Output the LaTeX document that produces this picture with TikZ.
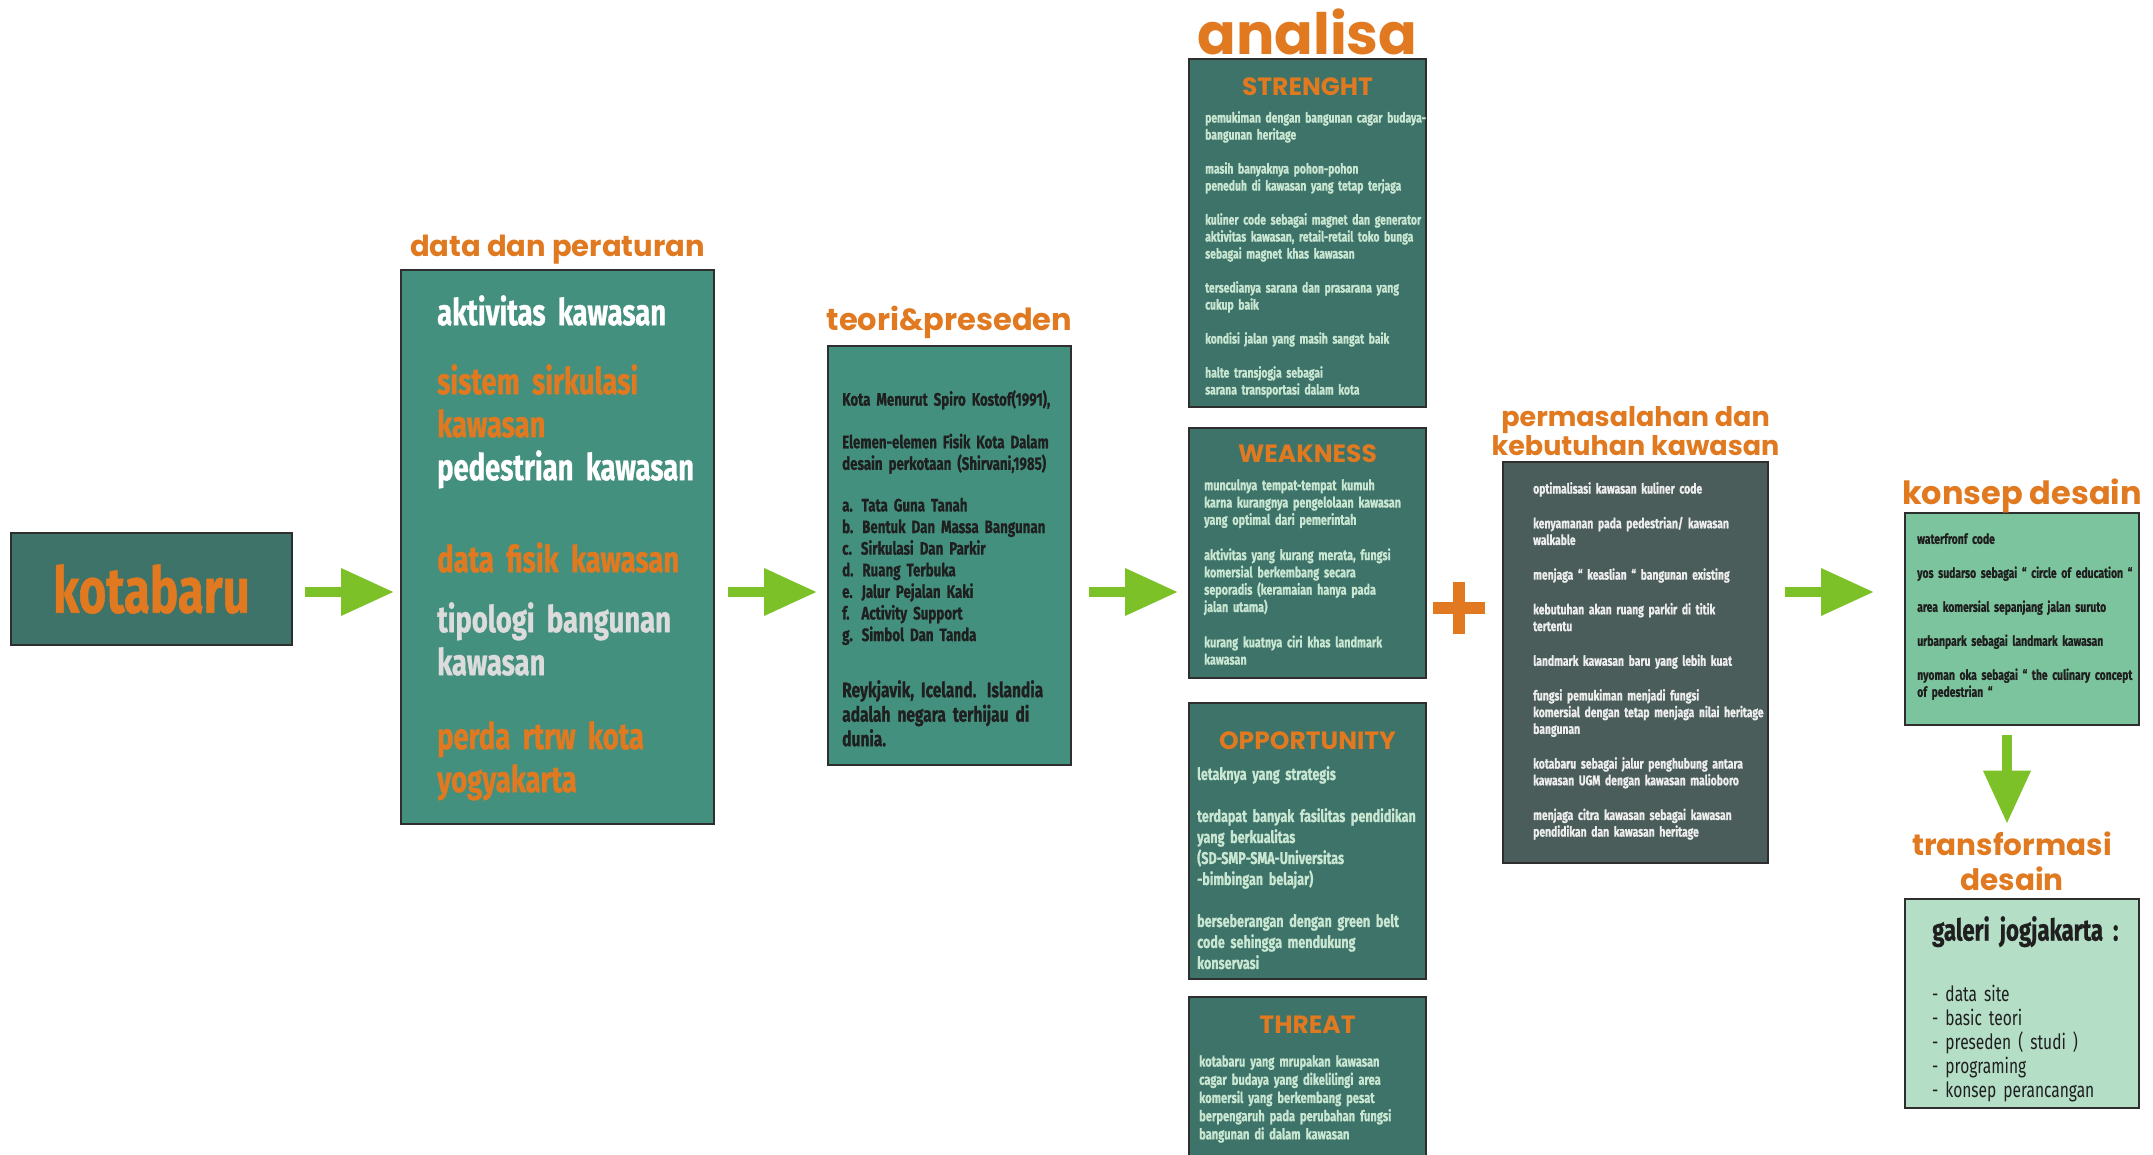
\documentclass[tikz,border=0pt]{standalone}
\usepackage{fontspec}
\usetikzlibrary{positioning, arrows.meta, calc}
\newfontfamily\condfont[FakeStretch=0.74, WordSpace=0.75, BoldFeatures={FakeBold=0.8}]{Fira Sans}
\newfontfamily\headfont{Poppins}

\definecolor{orangetx}{HTML}{E0791F}
\definecolor{tealdark}{HTML}{3D7368}
\definecolor{tealmid}{HTML}{44907F}
\definecolor{slate}{HTML}{4A5D5A}
\definecolor{greenmid}{HTML}{7CC49D}
\definecolor{greenlight}{HTML}{B4DEC6}
\definecolor{arrowgreen}{HTML}{7DC128}
\definecolor{mint}{HTML}{C9E6D3}
\definecolor{textdark}{HTML}{1F1F1F}
\definecolor{greytx}{HTML}{DCDCDC}
\definecolor{boxline}{HTML}{2E2E2E}

\begin{document}
\begin{tikzpicture}[
			x=1pt, y=-1pt,
			node distance=7pt,
			box/.style={
				rectangle,
				draw=boxline,
				line width=1.5pt,
				inner sep=0pt,
				outer sep=0pt,
				anchor=north west
			},
			box_dark/.style={box, fill=tealdark},
			box_teal/.style={box, fill=tealmid},
			title/.style={
				font=\headfont\bfseries\fontsize{29}{31}\selectfont,
				text=orangetx,
				inner sep=0pt,
				align=center
			},
			swot_title/.style={
				font=\headfont\bfseries\fontsize{25}{26}\selectfont,
				text=orangetx,
				inner sep=0pt
			},
			swot_text/.style={
				inner sep=0pt,
				text width=228pt,
				align=left,
				text=mint,
				font=\condfont\bfseries\fontsize{14}{17}\selectfont
			},
			green_arrow/.style={
				draw=arrowgreen,
				line width=10pt,
				-{Triangle[length=53pt, width=45pt]}
			},
			plus_bar/.style={
				draw=orangetx,
				line width=12pt
			}
			]
			
			\useasboundingbox[fill=white] (0,0) rectangle (2153,1155);
			
			% Boxes
			
			\node [box_dark, minimum width=281pt, minimum height=112pt, text=orangetx,
				font=\condfont\bfseries\fontsize{64}{64}\selectfont] (kotabaru) at (11,533) {kotabaru};
			\node [box_teal, minimum width=313pt, minimum height=554pt] (data) at (401,270) {};
			\node [box_teal, minimum width=243pt, minimum height=419pt] (teori) at (828,346) {};
			\node [box_dark, minimum width=237pt, minimum height=348pt] (strength) at (1189,59) {};
			\node [box_dark, minimum width=237pt, minimum height=250pt] (weakness) at (1189,428) {};
			\node [box_dark, minimum width=237pt, minimum height=276pt] (opportunity) at (1189,703) {};
			\node [box_dark, minimum width=237pt, minimum height=170pt] (threat) at (1189,997) {};
			\node [box, fill=slate, minimum width=265pt, minimum height=401pt] (masalah) at (1503,462) {};
			\node [box, fill=greenmid, minimum width=234pt, minimum height=212pt] (konsep) at (1905,513) {};
			\node [box, fill=greenlight, minimum width=234pt, minimum height=209pt] (transformasi) at (1905,899) {};
			
			% Titles
			
			\node [title, above=6pt of data] (data_title) {data dan peraturan};
			\node [title, font=\headfont\bfseries\fontsize{30.5}{32}\selectfont, above=7pt of teori] (teori_title) {teori\&preseden};
			\node [title, font=\headfont\bfseries\fontsize{57}{59}\selectfont, above=4pt of strength] (analisa_title) {analisa};
			\node [title, font=\headfont\bfseries\fontsize{27}{29}\selectfont, above=6pt of masalah] (masalah_title) {permasalahan dan\\kebutuhan kawasan};
			\node [title, font=\headfont\bfseries\fontsize{32}{34}\selectfont, above=0pt of konsep] (konsep_title) {konsep desain};
			\node [title, font=\headfont\bfseries\fontsize{29.5}{35}\selectfont, above=8pt of transformasi, xshift=-10pt] (transformasi_title) {transformasi\\desain};
			
			\node [swot_title, below=19pt of strength.north] (strength_title) {STRENGHT};
			\node [swot_title, below=16pt of weakness.north] (weakness_title) {WEAKNESS};
			\node [swot_title, below=28pt of opportunity.north] (opportunity_title) {OPPORTUNITY};
			\node [swot_title, below=19pt of threat.north] (threat_title) {THREAT};
			
			% Texts
			
			\node [inner sep=0pt, text width=270pt, align=left, font=\condfont\bfseries\fontsize{37}{43}\selectfont,
				below right=25pt and 36pt of data.north west] (data_text) {%
				\textcolor{white}{aktivitas kawasan}\\[26pt]
				\textcolor{orangetx}{sistem sirkulasi}\\
				\textcolor{orangetx}{kawasan}\\
				\textcolor{white}{pedestrian kawasan}\\[49pt]
				\textcolor{orangetx}{data fisik kawasan}\\[17pt]
				\textcolor{greytx}{tipologi bangunan}\\
				\textcolor{greytx}{kawasan}\\[31pt]
				\textcolor{orangetx}{perda rtrw kota}\\
				\textcolor{orangetx}{yogyakarta}};
			
			\node [inner sep=0pt, text width=225pt, align=left, text=textdark, font=\condfont\bfseries\fontsize{18}{21.6}\selectfont,
				below right=44pt and 14pt of teori.north west] (teori_text) {%
				Kota Menurut Spiro Kostof(1991),\\[21pt]
				Elemen-elemen Fisik Kota Dalam\\
				desain perkotaan (Shirvani,1985)\\[20pt]
				a. Tata Guna Tanah\\
				b. Bentuk Dan Massa Bangunan\\
				c. Sirkulasi Dan Parkir\\
				d. Ruang Terbuka\\
				e. Jalur Pejalan Kaki\\
				f.\ \ Activity Support\\
				g. Simbol Dan Tanda};
			\node [inner sep=0pt, text width=225pt, align=left, text=textdark, font=\condfont\bfseries\fontsize{21}{24.5}\selectfont,
				below right=334pt and 14pt of teori.north west] (teori_note) {%
				Reykjavik, Iceland. Islandia\\
				adalah negara terhijau di\\
				dunia.};
			
			\node [swot_text, below right=52pt and 16pt of strength.north west] (strength_text) {%
				pemukiman dengan bangunan cagar budaya-\\
				bangunan heritage\\[17pt]
				masih banyaknya pohon-pohon\\
				peneduh di kawasan yang tetap terjaga\\[17pt]
				kuliner code sebagai magnet dan generator\\
				aktivitas kawasan, retail-retail toko bunga\\
				sebagai magnet khas kawasan\\[17pt]
				tersedianya sarana dan prasarana yang\\
				cukup baik\\[17pt]
				kondisi jalan yang masih sangat baik\\[17pt]
				halte transjogja sebagai\\
				sarana transportasi dalam kota};
			
			\node [swot_text, font=\condfont\bfseries\fontsize{14.5}{17.3}\selectfont,
				below right=51pt and 15pt of weakness.north west] (weakness_text) {%
				munculnya tempat-tempat kumuh\\
				karna kurangnya pengelolaan kawasan\\
				yang optimal dari pemerintah\\[18pt]
				aktivitas yang kurang merata, fungsi\\
				komersial berkembang secara\\
				seporadis (keramaian hanya pada\\
				jalan utama)\\[18pt]
				kurang kuatnya ciri khas landmark\\
				kawasan};
			
			\node [swot_text, font=\condfont\bfseries\fontsize{17}{21}\selectfont,
				below right=63pt and 8pt of opportunity.north west] (opportunity_text) {%
				letaknya yang strategis\\[21pt]
				terdapat banyak fasilitas pendidikan\\
				yang berkualitas\\
				(SD-SMP-SMA-Universitas\\
				-bimbingan belajar)\\[21pt]
				berseberangan dengan green belt\\
				code sehingga mendukung\\
				konservasi};
			
			\node [swot_text, font=\condfont\bfseries\fontsize{15}{18.2}\selectfont,
				below right=58pt and 10pt of threat.north west] (threat_text) {%
				kotabaru yang mrupakan kawasan\\
				cagar budaya yang dikelilingi area\\
				komersil yang berkembang pesat\\
				berpengaruh pada perubahan fungsi\\
				bangunan di dalam kawasan};
			
			\node [swot_text, text=white!93!black, text width=240pt, font=\condfont\bfseries\fontsize{14}{16.7}\selectfont,
				below right=20pt and 30pt of masalah.north west] (masalah_text) {%
				optimalisasi kawasan kuliner code\\[18pt]
				kenyamanan pada pedestrian/ kawasan\\
				walkable\\[18pt]
				menjaga “ keaslian “ bangunan existing\\[18pt]
				kebutuhan akan ruang parkir di titik\\
				tertentu\\[18pt]
				landmark kawasan baru yang lebih kuat\\[18pt]
				fungsi pemukiman menjadi fungsi\\
				komersial dengan tetap menjaga nilai heritage\\
				bangunan\\[18pt]
				kotabaru sebagai jalur penghubung antara\\
				kawasan UGM dengan kawasan malioboro\\[18pt]
				menjaga citra kawasan sebagai kawasan\\
				pendidikan dan kawasan heritage};
			
			\node [swot_text, text=textdark, text width=225pt, font=\condfont\bfseries\fontsize{14}{17}\selectfont,
				below right=20pt and 12pt of konsep.north west] (konsep_text) {%
				waterfronf code\\[17pt]
				yos sudarso sebagai “ circle of education “\\[17pt]
				area komersial sepanjang jalan suruto\\[17pt]
				urbanpark sebagai landmark kawasan\\[17pt]
				nyoman oka sebagai “ the culinary concept\\
				of pedestrian “};
			
			\node [swot_text, text=textdark, text width=215pt, font=\condfont\bfseries\fontsize{30}{34}\selectfont,
				below right=17pt and 27pt of transformasi.north west] (galeri_head) {galeri jogjakarta :};
			\node [swot_text, text=textdark, text width=210pt, font=\condfont\fontsize{21}{24}\selectfont,
				below right=86pt and 27pt of transformasi.north west] (galeri_list) {%
				- data site\\
				- basic teori\\
				- preseden ( studi )\\
				- programing\\
				- konsep perancangan};
			
			% Connections
			
			\coordinate (flow) at (0,592);
			\coordinate (drop) at (2007,0);
			
			\draw[green_arrow, shorten <=13pt, shorten >=7pt] (kotabaru.east |- flow) -- (data.west |- flow);
			\draw[green_arrow, shorten <=14pt, shorten >=11pt] (data.east |- flow) -- (teori.west |- flow);
			\draw[green_arrow, shorten <=18pt, shorten >=11pt] (teori.east |- flow) -- (weakness.west |- flow);
			\draw[green_arrow, shorten <=17pt, shorten >=31pt] (masalah.east |- flow) -- (konsep.west |- flow);
			\draw[green_arrow, shorten <=10pt, shorten >=8pt] (konsep.south -| drop) -- (transformasi_title.north -| drop);
			
			% Plus
			
			\node [inner sep=0pt] (plus) at (1459,608) {};
			\draw[plus_bar] ([xshift=-26pt]plus.center) -- ([xshift=26pt]plus.center);
			\draw[plus_bar] ([yshift=-26pt]plus.center) -- ([yshift=26pt]plus.center);
			
		\end{tikzpicture}
\end{document}
